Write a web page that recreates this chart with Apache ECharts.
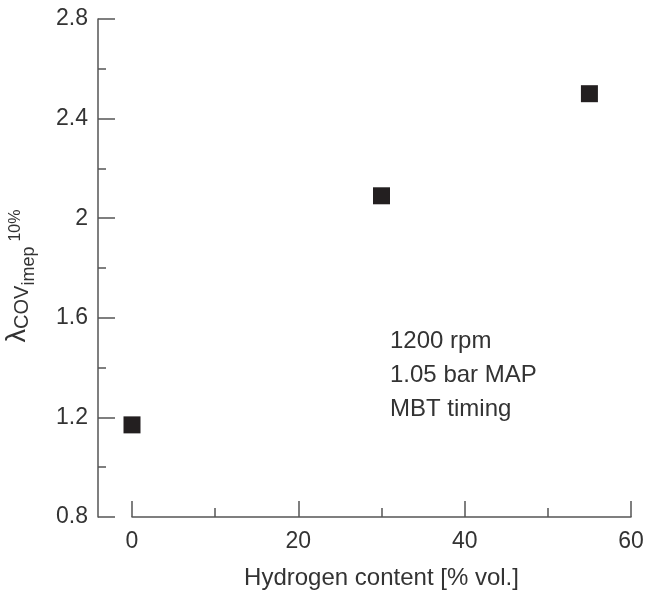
<!DOCTYPE html>
<html>
<head>
<meta charset="utf-8">
<script src="https://cdn.jsdelivr.net/npm/echarts@6/dist/echarts.min.js"></script>
<style>
  html, body { margin: 0; padding: 0; background: #fff; }
  #chart { width: 648px; height: 596px; }
</style>
</head>
<body>
<div id="chart"></div>
<script>
// hydrogen content [% vol.] and lambda at COV_imep 10%
var hydrogen = [0, 30, 55]
var lambdaCov = [1.17, 2.09, 2.50]
var notes = ['1200 rpm', '1.05 bar MAP', 'MBT timing']

var axisColor = '#555'
var textColor = '#333'
var font = '"Liberation Sans", Arial, sans-serif'

var chart = echarts.init(document.getElementById('chart'))

var points = hydrogen.map(function (h, i) {
  return [h, lambdaCov[i]]
})

var option = {
  backgroundColor: '#fff',
  animation: false,
  grid: {
    left: 132,
    right: 17,
    top: 19,
    bottom: 79,
    containLabel: false,
    outerBoundsMode: 'none'
  },
  xAxis: {
    type: 'value',
    min: 0,
    max: 60,
    interval: 20,
    name: 'Hydrogen content [% vol.]',
    nameLocation: 'middle',
    nameGap: 49,
    nameTextStyle: { color: textColor, fontSize: 24, fontFamily: font },
    axisLine: { show: true, onZero: false, lineStyle: { color: axisColor, width: 1.5 } },
    axisTick: { show: true, inside: true, length: 16, lineStyle: { color: axisColor, width: 1.5 } },
    minorTick: { show: true, splitNumber: 2, length: 9, lineStyle: { color: axisColor, width: 1.5 } },
    axisLabel: { color: textColor, fontSize: 23, fontFamily: font, margin: 13 },
    splitLine: { show: false }
  },
  yAxis: {
    type: 'value',
    min: 0.8,
    max: 2.8,
    interval: 0.4,
    offset: 34,
    name: '{l|λ}{c|COV}{i|imep}{p|10%}',
    nameLocation: 'middle',
    nameRotate: 90,
    nameGap: 60,
    nameTextStyle: {
      color: textColor,
      fontFamily: font,
      rich: {
        l: { fontSize: 27, fontFamily: font, color: textColor, verticalAlign: 'bottom', padding: [0, 0, 7, 0], lineHeight: 46 },
        c: { fontSize: 20, fontFamily: font, color: textColor, verticalAlign: 'bottom', padding: [0, 0, 6, 0], lineHeight: 46 },
        i: { fontSize: 18, fontFamily: font, color: textColor, verticalAlign: 'bottom', padding: [0, 5, 0, 0], lineHeight: 46 },
        p: { fontSize: 16, fontFamily: font, color: textColor, verticalAlign: 'bottom', padding: [0, 16, 14, 0], lineHeight: 46 }
      }
    },
    axisLine: { show: true, onZero: false, lineStyle: { color: axisColor, width: 1.5 } },
    axisTick: { show: true, inside: true, length: 17, lineStyle: { color: axisColor, width: 1.5 } },
    minorTick: { show: true, splitNumber: 2, length: 8, lineStyle: { color: axisColor, width: 1.5 } },
    axisLabel: {
      color: textColor, fontSize: 23, fontFamily: font, margin: 10,
      formatter: function (v) { return String(Math.round(v * 10) / 10) }
    },
    splitLine: { show: false }
  },
  graphic: [{
    type: 'text',
    left: 390,
    top: 324,
    style: {
      text: notes.join('\n'),
      font: '24px ' + font,
      fill: textColor,
      lineHeight: 34
    }
  }],
  series: [{
    type: 'scatter',
    symbol: 'rect',
    symbolSize: 17,
    itemStyle: { color: '#231f20', opacity: 1 },
    data: points
  }]
}

chart.setOption(option)
</script>
</body>
</html>
